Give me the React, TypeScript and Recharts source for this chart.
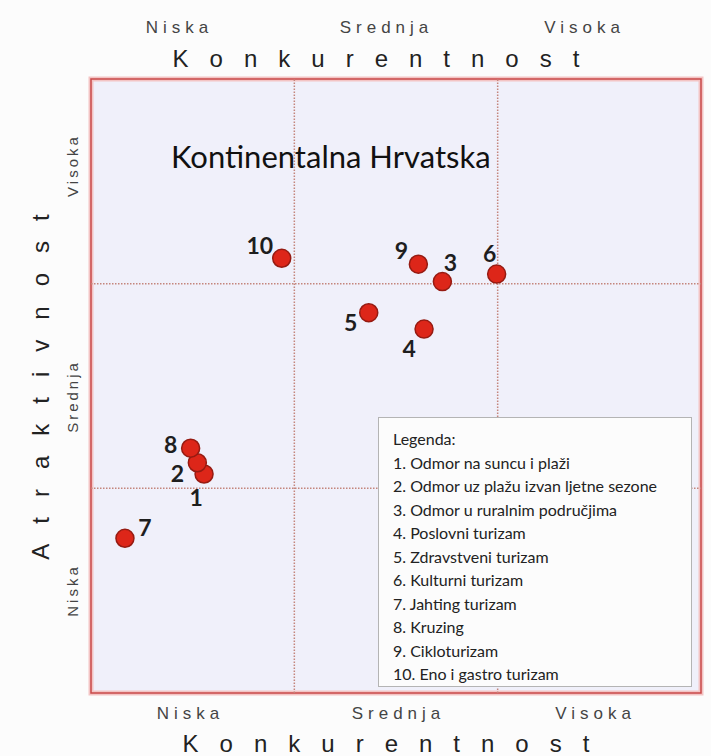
import { ScatterChart, Scatter, XAxis, YAxis, ReferenceArea, ReferenceLine } from "recharts";

const categories = [
  "Odmor na suncu i plaži",
  "Odmor uz plažu izvan ljetne sezone",
  "Odmor u ruralnim područjima",
  "Poslovni turizam",
  "Zdravstveni turizam",
  "Kulturni turizam",
  "Jahting turizam",
  "Kruzing",
  "Cikloturizam",
  "Eno i gastro turizam",
];
const konkurentnost = [0.556, 0.523, 1.728, 1.638, 1.366, 1.995, 0.167, 0.49, 1.61, 0.938];
const atraktivnost = [1.07, 1.125, 2.01, 1.778, 1.858, 2.047, 0.756, 1.196, 2.095, 2.124];
const levels = ["Niska", "Srednja", "Visoka"];
const xTitle = "Konkurentnost";
const yTitle = "Atraktivnost";
const chartTitle = "Kontinentalna Hrvatska";
const legendTitle = "Legenda:";

// pomak oznake broja u odnosu na točku (px)
const labelOffsets: [number, number][] = [
  [-8, 23], [-20, 10], [8, -20], [-15, 19], [-18, 9],
  [-7, -21], [20, -11], [-20, -4], [-17, -14], [-22, -13],
];

const data = categories.map((name, i) => ({
  id: i + 1,
  name,
  x: konkurentnost[i],
  y: atraktivnost[i],
}));

const Marker = (props: any) => {
  const { cx, cy, payload } = props;
  const [dx, dy] = labelOffsets[payload.id - 1];
  return (
    <g>
      <circle cx={cx} cy={cy} r={9} fill="#dd2619" stroke="#961b12" strokeWidth={1.5} />
      <text
        x={cx + dx}
        y={cy + dy}
        textAnchor="middle"
        dominantBaseline="central"
        fontFamily="Lato, sans-serif"
        fontWeight={700}
        fontSize={23}
        fill="#1e1e1e"
      >
        {payload.id}
      </text>
    </g>
  );
};

const spaced = { fontFamily: "'Liberation Sans', Arial, sans-serif" };

export default function App() {
  const topX = [177, 384, 582];
  const bottomX = [188, 396, 593];
  const leftY = [592, 398, 167];
  return (
    <div style={{ position: "absolute", left: 0, top: 0, width: 711, height: 756, background: "#fcfcfc" }}>
      <ScatterChart width={711} height={756} margin={{ top: 79, right: 10, bottom: 63, left: 91 }}>
        <XAxis type="number" dataKey="x" domain={[0, 3]} hide />
        <YAxis type="number" dataKey="y" domain={[0, 3]} hide />
        <ReferenceArea x1={0} x2={3} y1={0} y2={3} fill="#f0f0fa" fillOpacity={1} stroke="#f3c4c4" strokeWidth={5} />
        <ReferenceLine x={1} stroke="#c4857c" strokeWidth={1.5} strokeDasharray="1.5 1.5" />
        <ReferenceLine x={2} stroke="#c4857c" strokeWidth={1.5} strokeDasharray="1.5 1.5" />
        <ReferenceLine y={1} stroke="#c4857c" strokeWidth={1.5} strokeDasharray="1.5 1.5" />
        <ReferenceLine y={2} stroke="#c4857c" strokeWidth={1.5} strokeDasharray="1.5 1.5" />
        <ReferenceArea x1={0} x2={3} y1={0} y2={3} fill="none" stroke="#c94848" strokeWidth={1.5} />
        <Scatter data={data} shape={Marker} isAnimationActive={false} />
      </ScatterChart>

      <svg width={711} height={756} style={{ position: "absolute", left: 0, top: 0, pointerEvents: "none" }}>
        {levels.map((l, i) => (
          <text key={"t" + l} x={topX[i] + 2.5} y={33} textAnchor="middle" fontSize={17} letterSpacing={5} fill="#444" {...spaced}>
            {l}
          </text>
        ))}
        <text x={376 + 10.5} y={67} textAnchor="middle" fontSize={24} letterSpacing={21} fill="#222" {...spaced}>
          {xTitle}
        </text>
        {levels.map((l, i) => (
          <text key={"b" + l} x={bottomX[i] + 2.5} y={719} textAnchor="middle" fontSize={17} letterSpacing={5} fill="#444" {...spaced}>
            {l}
          </text>
        ))}
        <text x={386 + 10.5} y={752} textAnchor="middle" fontSize={24} letterSpacing={21} fill="#222" {...spaced}>
          {xTitle}
        </text>
        {levels.map((l, i) => (
          <text
            key={"l" + l}
            transform={`translate(78, ${leftY[i] - 1.5}) rotate(-90)`}
            textAnchor="middle"
            fontSize={15}
            letterSpacing={3}
            fill="#444"
            {...spaced}
          >
            {l}
          </text>
        ))}
        <text transform="translate(49, 377) rotate(-90)" textAnchor="middle" fontSize={24} letterSpacing={20} fill="#222" {...spaced}>
          {yTitle}
        </text>
        <text x={171} y={168} fontSize={31} fontFamily="Lato, sans-serif" fill="#111">
          {chartTitle}
        </text>
      </svg>

      <div
        style={{
          position: "absolute",
          left: 378,
          top: 417,
          width: 314,
          height: 270,
          boxSizing: "border-box",
          background: "#fcfcfc",
          border: "1px solid #b4b4b4",
          padding: "9px 0 0 14px",
          fontFamily: "Lato, sans-serif",
          fontSize: 16,
          lineHeight: "23.5px",
          color: "#222",
        }}
      >
        <div>{legendTitle}</div>
        {categories.map((c, i) => (
          <div key={c} style={{ whiteSpace: "nowrap" }}>
            {i + 1}. {c}
          </div>
        ))}
      </div>
    </div>
  );
}
